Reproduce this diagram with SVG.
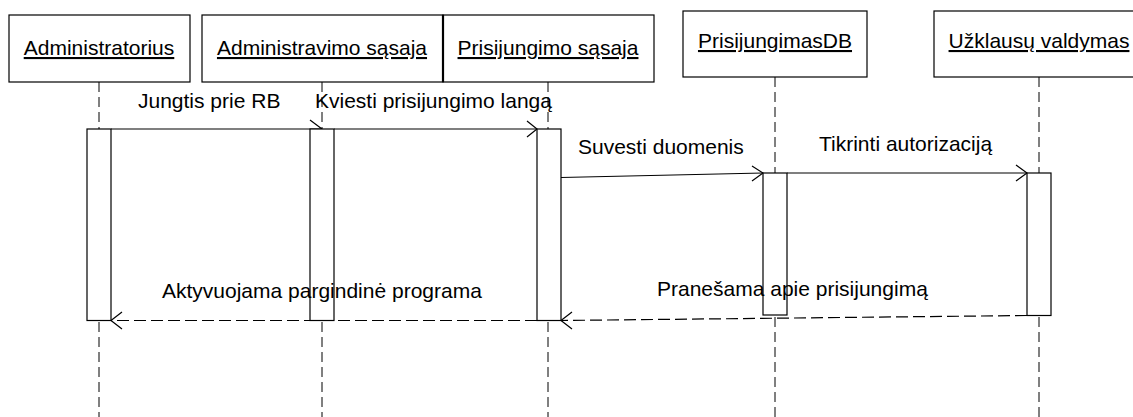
<svg xmlns="http://www.w3.org/2000/svg" width="1133" height="417" viewBox="0 0 1133 417">
  <style>
    .box { fill: #fff; stroke: #000; stroke-width: 1.2; }
    .life { stroke: #000; stroke-width: 1; stroke-dasharray: 10 5; fill: none; }
    .bar { fill: #fff; stroke: #000; stroke-width: 1.2; }
    .msg { stroke: #000; stroke-width: 1.2; fill: none; }
    .ret { stroke: #000; stroke-width: 1.2; fill: none; stroke-dasharray: 12 5; }
    .head { stroke: #000; stroke-width: 1.2; fill: none; }
    text { font-family: "Liberation Sans", Arial, sans-serif; font-size: 21px; fill: #000; }
    .name { text-anchor: middle; text-decoration: underline; }
  </style>

  <!-- lifelines -->
  <g id="lifelines">
    <line class="life" x1="99" y1="82" x2="99" y2="417"/>
    <line class="life" x1="322" y1="82" x2="322" y2="417"/>
    <line class="life" x1="548" y1="82" x2="548" y2="417"/>
    <line class="life" x1="775" y1="77" x2="775" y2="417"/>
    <line class="life" x1="1039" y1="77" x2="1039" y2="417"/>
  </g>

  <!-- messages -->
  <g id="connectors">
    <line class="msg" x1="111" y1="129" x2="322" y2="129"/>
    <polyline class="head" points="310,120 322,129"/>
    <line class="msg" x1="334" y1="129" x2="537" y2="129"/>
    <polyline class="head" points="527,121 537,129 527,137"/>
    <line class="msg" x1="561" y1="177.5" x2="763" y2="173"/>
    <polyline class="head" points="752,166 763,173 752,181"/>
    <line class="msg" x1="787" y1="173" x2="1027" y2="173"/>
    <polyline class="head" points="1016,165 1027,173 1016,181"/>
    <line class="ret" x1="537" y1="320.5" x2="111" y2="320.5"/>
    <polyline class="head" points="122,312 111,320.5 122,329"/>
    <line class="ret" x1="1027" y1="315.5" x2="561" y2="320.5"/>
    <polyline class="head" points="572,312 561,320.5 572,329"/>
  </g>

  <!-- activation bars -->
  <g id="activations">
    <rect class="bar" x="87" y="129" width="24" height="191.5"/>
    <rect class="bar" x="310" y="129" width="24" height="191.5"/>
    <rect class="bar" x="537" y="129" width="24" height="191.5"/>
    <rect class="bar" x="763" y="173" width="24" height="142"/>
    <rect class="bar" x="1027" y="173" width="24" height="142.5"/>
  </g>

  <g id="labels">
    <text x="138" y="108">Jungtis prie RB</text>
    <text x="315" y="108">Kviesti prisijungimo langą</text>
    <text x="578" y="154">Suvesti duomenis</text>
    <text x="819" y="151">Tikrinti autorizaciją</text>
    <text x="162" y="298">Aktyvuojama pargindinė programa</text>
    <text x="657" y="296">Pranešama apie prisijungimą</text>
  </g>

  <g id="administratorius">
    <rect class="box" x="9" y="15" width="181" height="67"/>
    <text class="name" x="99" y="55">Administratorius</text>
  </g>
  <g id="administravimo-sasaja">
    <rect class="box" x="202" y="15" width="241" height="67"/>
    <text class="name" x="322" y="55">Administravimo sąsaja</text>
  </g>
  <g id="prisijungimo-sasaja">
    <rect class="box" x="443" y="15" width="211" height="67"/>
    <line x1="443" y1="15" x2="443" y2="82" stroke="#000" stroke-width="2.2"/>
    <text class="name" x="548" y="55">Prisijungimo sąsaja</text>
  </g>
  <g id="prisijungimas-db">
    <rect class="box" x="683" y="11" width="184" height="66"/>
    <text class="name" x="775" y="48">PrisijungimasDB</text>
  </g>
  <g id="uzklausu-valdymas">
    <rect class="box" x="934" y="11" width="212" height="66"/>
    <text class="name" x="1039" y="48">Užklausų valdymas</text>
  </g>
</svg>
